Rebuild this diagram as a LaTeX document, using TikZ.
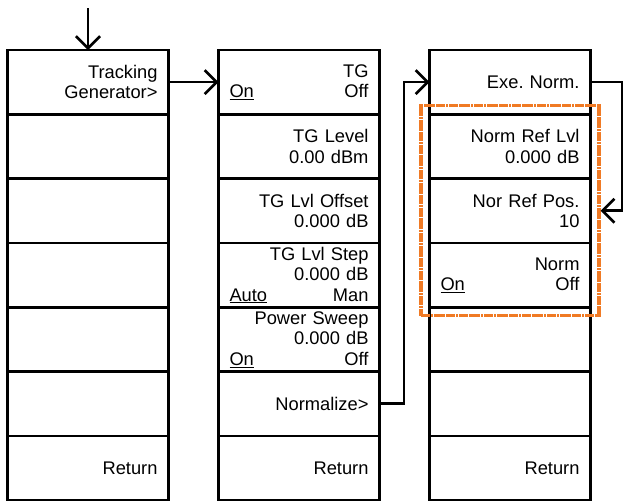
\documentclass[tikz,border=0pt]{standalone}
\usepackage{fontspec}
\setsansfont{Liberation Sans}
\usepackage{xcolor}
\usepackage{tikz}
\usetikzlibrary{arrows.meta,positioning,fit}

\definecolor{selorange}{RGB}{240,122,36}
\newcommand{\onoff}[2]{\makebox[\linewidth][s]{\underline{#1}\hfill #2}}

\begin{document}
\frenchspacing
\begin{tikzpicture}[
  x=1pt, y=-1pt,
  font=\sffamily\fontsize{18.3}{20.5}\selectfont,
  node distance=0pt and 50pt,
  softkey/.style={
    draw=black, line width=2.6pt, align=right,
    text width=139pt, inner xsep=11pt, inner ysep=0pt,
    minimum height=64.3pt, outer sep=0pt
  },
  arr/.style={-{Straight Barb[length=12pt,width=24pt]}, line width=2.6pt},
  hilite/.style={
    draw=selorange, line width=3.2pt, inner sep=8.5pt,
    dash pattern=on 9pt off 0.8pt on 2pt off 0.8pt
  }
]
  \useasboundingbox (0,0) rectangle (624,501);

  % first menu
  \node[softkey] (T1) at (88,82.15) {Tracking\\Generator>};
  \node[softkey, below=of T1] (T2) {};
  \node[softkey, below=of T2] (T3) {};
  \node[softkey, below=of T3] (T4) {};
  \node[softkey, below=of T4] (T5) {};
  \node[softkey, below=of T5] (T6) {};
  \node[softkey, below=of T6] (T7) {Return};

  % tracking generator menu
  \node[softkey, right=of T1] (G1) {TG\\\onoff{On}{Off}};
  \node[softkey, below=of G1] (G2) {TG Level\\0.00 dBm};
  \node[softkey, below=of G2] (G3) {TG Lvl Offset\\0.000 dB};
  \node[softkey, below=of G3] (G4) {TG Lvl Step\\0.000 dB\\\onoff{Auto}{Man}};
  \node[softkey, below=of G4] (G5) {Power Sweep\\0.000 dB\\\onoff{On}{Off}};
  \node[softkey, below=of G5] (G6) {Normalize>};
  \node[softkey, below=of G6] (G7) {Return};

  % normalize menu
  \node[softkey, right=of G1] (N1) {Exe. Norm.};
  \node[softkey, below=of N1] (N2) {Norm Ref Lvl\\0.000 dB};
  \node[softkey, below=of N2] (N3) {Nor Ref Pos.\\10};
  \node[softkey, below=of N3] (N4) {Norm\\\onoff{On}{Off}};
  \node[softkey, below=of N4] (N5) {};
  \node[softkey, below=of N5] (N6) {};
  \node[softkey, below=of N6] (N7) {Return};

  \node[hilite, fit=(N2) (N4)] (sel) {};

  \coordinate[above=42pt of T1.north] (entry);
  \draw[arr] (entry) -- (T1.north);
  \draw[arr] (T1) -- (G1);
  \draw[arr] (G6.east) -- ++(24.5,0) |- (N1.west);
  \draw[arr] (N1.east) -- ++(31.5,0) |- (sel.east);
\end{tikzpicture}
\end{document}
